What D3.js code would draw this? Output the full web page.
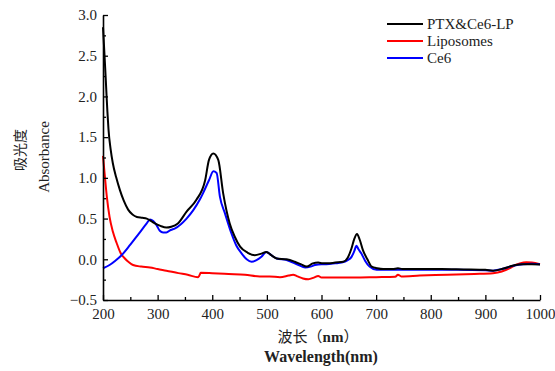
<!DOCTYPE html>
<html>
<head>
<meta charset="utf-8">
<script src="https://cdn.jsdelivr.net/npm/d3@7"></script>
<style>
  body { margin: 0; background: #fff; }
  svg { display: block; font-family: "Liberation Serif", "Times New Roman", serif; }
</style>
</head>
<body>
<div id="chart"></div>
<script>
// wavelength (nm) / absorbance
var lpWave = [200,202,204,206,208,210,214,218,224,231,238,246,254,262,272,280,288,295,305,316,325,337,353,371,387,394,402,411,420,432,441,451,465,478,490,499,508,518,536,551,562,573,584,594,602,612,625,640,648,655,660,665,670,676,684,692,702,713,730,740,748,780,820,860,900,914,930,944,955,969,985,1000];
var lpAbs = [2.85,2.60,2.35,2.08,1.82,1.60,1.35,1.18,1.01,0.85,0.72,0.61,0.55,0.52,0.51,0.50,0.47,0.44,0.41,0.39,0.40,0.44,0.585,0.73,0.97,1.22,1.30,1.22,0.81,0.44,0.28,0.155,0.08,0.05,0.07,0.09,0.05,0.01,0.00,-0.03,-0.06,-0.09,-0.05,-0.04,-0.05,-0.05,-0.04,-0.03,0.02,0.135,0.25,0.31,0.24,0.11,0.00,-0.09,-0.11,-0.12,-0.12,-0.11,-0.12,-0.12,-0.12,-0.125,-0.13,-0.14,-0.12,-0.09,-0.07,-0.06,-0.06,-0.065];

var lipoWave = [200,203,207,212,218,225,232,240,248,255,270,286,300,316,338,355,374,376,379,400,430,460,487,505,524,540,548,556,566,576,586,594,600,620,660,700,735,740,746,780,830,880,914,930,944,955,963,975,985,1000];
var lipoAbs = [1.27,1.05,0.77,0.52,0.34,0.20,0.08,0.01,-0.04,-0.07,-0.09,-0.10,-0.12,-0.14,-0.17,-0.19,-0.22,-0.205,-0.165,-0.17,-0.18,-0.19,-0.21,-0.21,-0.22,-0.20,-0.19,-0.21,-0.235,-0.245,-0.225,-0.205,-0.225,-0.225,-0.225,-0.22,-0.215,-0.19,-0.21,-0.20,-0.19,-0.18,-0.17,-0.15,-0.11,-0.07,-0.05,-0.035,-0.04,-0.06];

var ce6Wave = [200,212,222,234,250,265,280,286,292,298,304,310,316,324,332,353,365,377,383,394,402,408,414,423,435,444,454,463,472,481,490,499,508,518,536,548,558,570,580,588,600,609,625,637,648,655,660,664,668,673,680,688,701,722,760,800,850,900,914,930,951,969,985,1000];
var ce6Abs = [-0.11,-0.07,-0.02,0.05,0.18,0.31,0.44,0.49,0.47,0.42,0.35,0.33,0.33,0.36,0.38,0.50,0.60,0.73,0.81,0.97,1.08,1.06,0.77,0.57,0.32,0.17,0.07,0.00,-0.03,-0.01,0.03,0.09,0.05,0.01,-0.01,-0.04,-0.07,-0.10,-0.09,-0.07,-0.06,-0.06,-0.05,-0.04,-0.01,0.03,0.10,0.165,0.12,0.07,-0.02,-0.09,-0.13,-0.13,-0.13,-0.13,-0.13,-0.135,-0.14,-0.12,-0.08,-0.06,-0.055,-0.06];

var seriesNames = ["PTX&Ce6-LP", "Liposomes", "Ce6"];
var seriesColors = ["#000000", "#ff0000", "#0000ff"];
var xTicks = [200,300,400,500,600,700,800,900,1000];
var yTicks = [-0.5,0.0,0.5,1.0,1.5,2.0,2.5,3.0];

var width = 555, height = 371;
var margin = { top: 15, right: 15, bottom: 71, left: 103 };
var serif = "'Liberation Serif', 'Times New Roman', serif";

var svg = d3.select("#chart").append("svg")
  .attr("width", width)
  .attr("height", height);

var x = d3.scaleLinear().domain([200, 1000]).range([margin.left, 540]);
var y = d3.scaleLinear().domain([-0.5, 3.0]).range([300, margin.top]);

var series = [
  { name: seriesNames[0], color: seriesColors[0], values: lpWave.map(function (w, i) { return { w: w, a: lpAbs[i] }; }) },
  { name: seriesNames[1], color: seriesColors[1], values: lipoWave.map(function (w, i) { return { w: w, a: lipoAbs[i] }; }) },
  { name: seriesNames[2], color: seriesColors[2], values: ce6Wave.map(function (w, i) { return { w: w, a: ce6Abs[i] }; }) }
];

var line = d3.line()
  .curve(d3.curveMonotoneX)
  .x(function (d) { return x(d.w); })
  .y(function (d) { return y(d.a); });

// draw red first, then blue, black on top where they overlap
svg.append("g").selectAll("path")
  .data([series[1], series[2], series[0]])
  .enter().append("path")
  .attr("d", function (d) { return line(d.values); })
  .attr("fill", "none")
  .attr("stroke", function (d) { return d.color; })
  .attr("stroke-width", 2)
  .attr("stroke-linejoin", "round");

// minor ticks
svg.append("g")
  .attr("transform", "translate(0,300)")
  .call(d3.axisBottom(x).tickValues(d3.range(250, 1000, 100)).tickSize(-3).tickFormat(""))
  .call(function (g) { g.select(".domain").remove(); });
svg.append("g")
  .attr("transform", "translate(" + margin.left + ",0)")
  .call(d3.axisLeft(y).tickValues(d3.range(-0.25, 3.0, 0.5)).tickSize(-3).tickFormat(""))
  .call(function (g) { g.select(".domain").remove(); });

// major axes
var xAxis = svg.append("g")
  .attr("transform", "translate(0,300)")
  .call(d3.axisBottom(x).tickValues(xTicks).tickSize(-5).tickSizeOuter(0).tickPadding(8)
    .tickFormat(d3.format("d")));
var yAxis = svg.append("g")
  .attr("transform", "translate(" + margin.left + ",0)")
  .call(d3.axisLeft(y).tickValues(yTicks).tickSize(-5).tickSizeOuter(0).tickPadding(6)
    .tickFormat(d3.format(".1f")));

xAxis.attr("font-family", serif).attr("font-size", 15);
yAxis.attr("font-family", serif).attr("font-size", 15);
// last x label sits against the right edge, keep it inside
xAxis.selectAll(".tick text").filter(function (d) { return d === 1000; })
  .attr("text-anchor", "end").attr("dx", 15);

svg.selectAll(".domain").attr("stroke-width", 1.6);
svg.selectAll(".tick line").attr("stroke-width", 1.3);
svg.selectAll(".tick text").style("font-family", serif).attr("fill", "#222");

// axis titles
var xt = svg.append("text")
  .attr("x", 318).attr("y", 342)
  .attr("text-anchor", "middle")
  .attr("font-size", 15)
  .attr("fill", "#222");
xt.append("tspan").attr("font-family", "Noto Sans CJK SC").text("波长（");
xt.append("tspan").attr("font-weight", "bold").text("nm");
xt.append("tspan").attr("font-family", "Noto Sans CJK SC").text("）");
svg.append("text")
  .attr("x", 321).attr("y", 362)
  .attr("text-anchor", "middle")
  .attr("font-size", 16)
  .attr("font-weight", "bold")
  .attr("fill", "#222")
  .text("Wavelength(nm)");
svg.append("text")
  .attr("transform", "translate(25,150) rotate(-90)")
  .attr("text-anchor", "middle")
  .attr("font-family", "Noto Sans CJK SC")
  .attr("font-size", 14)
  .attr("fill", "#222")
  .text("吸光度");
svg.append("text")
  .attr("transform", "translate(49,157) rotate(-90)")
  .attr("text-anchor", "middle")
  .attr("font-size", 15)
  .attr("fill", "#222")
  .text("Absorbance");

// legend
var legend = svg.append("g").attr("transform", "translate(387,24)");
var rows = legend.selectAll("g")
  .data(series)
  .enter().append("g")
  .attr("transform", function (d, i) { return "translate(0," + (i * 17) + ")"; });
rows.append("line")
  .attr("x1", 0).attr("x2", 36)
  .attr("stroke", function (d) { return d.color; })
  .attr("stroke-width", 2);
rows.append("text")
  .attr("x", 40).attr("y", 5)
  .attr("font-size", 15)
  .attr("fill", "#222")
  .text(function (d) { return d.name; });
</script>
</body>
</html>
